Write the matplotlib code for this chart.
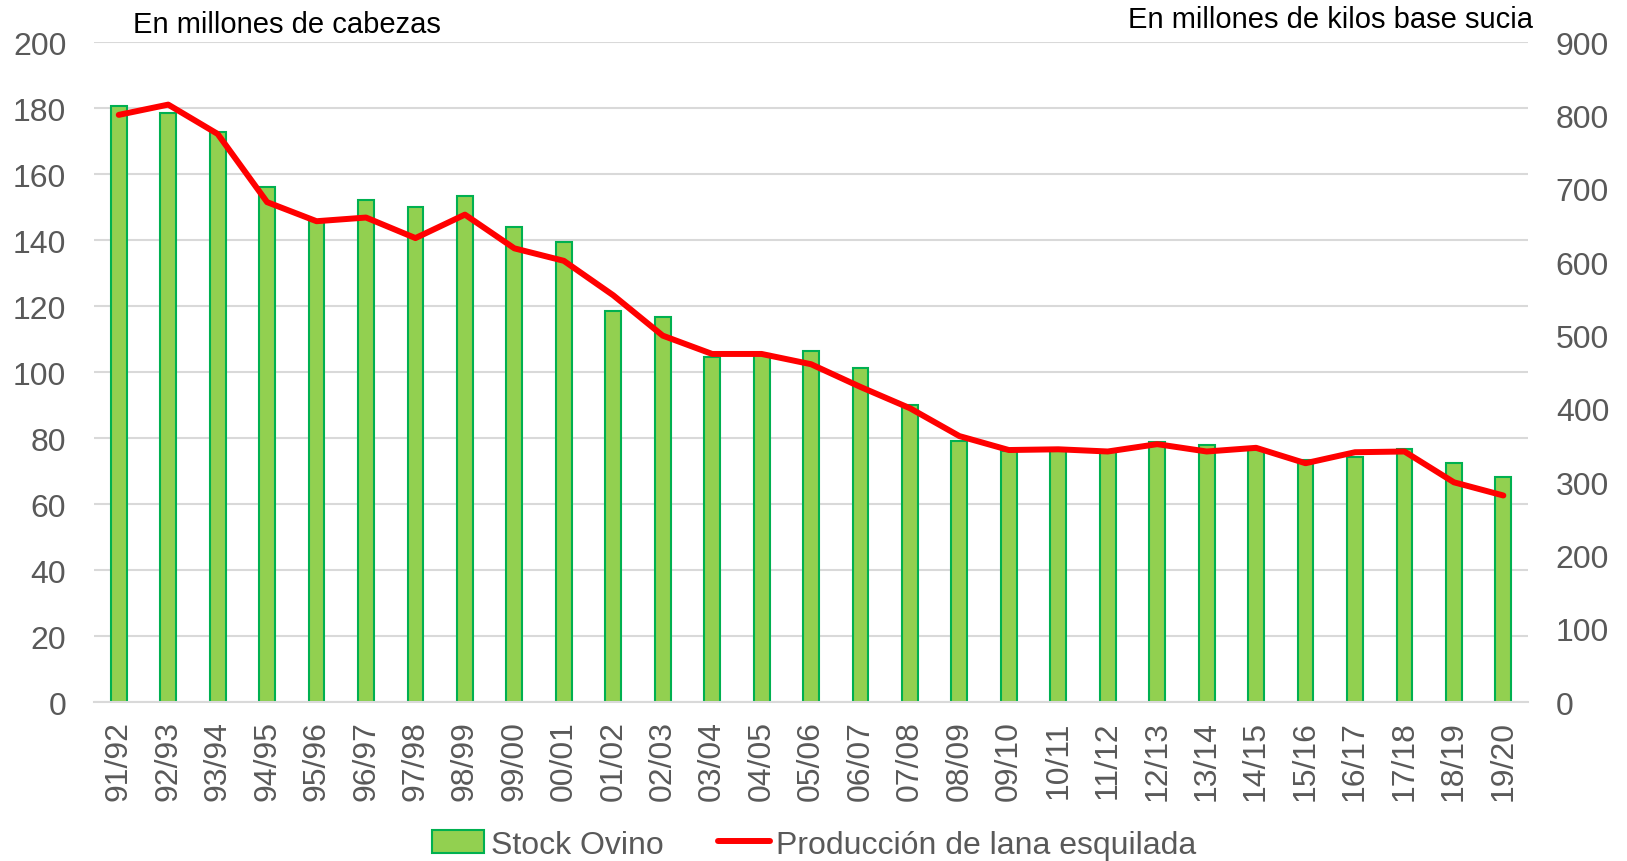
import matplotlib.pyplot as plt
import numpy as np

plt.rcParams["font.family"] = ["Liberation Sans", "DejaVu Sans"]

campanas = ["91/92", "92/93", "93/94", "94/95", "95/96", "96/97", "97/98", "98/99",
            "99/00", "00/01", "01/02", "02/03", "03/04", "04/05", "05/06", "06/07",
            "07/08", "08/09", "09/10", "10/11", "11/12", "12/13", "13/14", "14/15",
            "15/16", "16/17", "17/18", "18/19", "19/20"]
stock_ovino = [180.8, 178.6, 172.8, 156.1, 145.7, 152.1, 150.0, 153.5, 144.1, 139.5,
               118.6, 116.8, 104.7, 105.5, 106.5, 101.4, 90.2, 79.3, 76.1, 76.1,
               75.7, 78.9, 77.9, 76.4, 73.4, 74.4, 76.8, 72.5, 68.3]
produccion_lana = [801, 815, 775, 682, 656, 661, 633, 665, 619, 602,
                   555, 500, 475, 475, 461, 430, 401, 363, 344, 345,
                   342, 352, 342, 347, 326, 341, 342, 300, 282]

x = np.arange(len(campanas))

fig = plt.figure(figsize=(16.27, 8.62), dpi=100)
ax = fig.add_axes([0.0578, 0.1841, 0.8814, 0.7657])
ax2 = ax.twinx()

ax.bar(x, stock_ovino, width=0.32, color="#92D050", edgecolor="#00B050", linewidth=1.5,
       label="Stock Ovino", zorder=2)
ax2.plot(x, produccion_lana, color="#FF0000", linewidth=4.3, label="Producción de lana esquilada",
         solid_capstyle="round", zorder=3)

ax.set_xlim(-0.5, len(campanas) - 0.5)
ax.set_ylim(0, 200)
ax2.set_ylim(0, 900)
ax.set_yticks(range(0, 201, 20))
ax2.set_yticks(range(0, 901, 100))
ax.set_xticks(x)
ax.set_xticklabels(campanas, rotation=90)

ax.grid(axis="y", color="#D9D9D9", linewidth=1.5, zorder=0)
ax.set_axisbelow(True)
for a in (ax, ax2):
    for s in a.spines.values():
        s.set_visible(False)
    a.tick_params(length=0, labelsize=23, colors="#595959")
ax.spines["bottom"].set_visible(True)
ax.spines["bottom"].set_color("#D9D9D9")
ax.spines["bottom"].set_linewidth(1.5)
ax.tick_params(axis="y", pad=20)
ax.tick_params(axis="x", pad=13)
ax2.tick_params(axis="y", pad=20)

fig.text(0.0817, 0.962, "En millones de cabezas", fontsize=21, color="black", va="baseline")
fig.text(0.9422, 0.967, "En millones de kilos base sucia", fontsize=21, color="black",
         va="baseline", ha="right")

h1, l1 = ax.get_legend_handles_labels()
h2, l2 = ax2.get_legend_handles_labels()
fig.legend(h1 + h2, l1 + l2, loc="center", bbox_to_anchor=(0.5006, 0.019), ncol=2,
           frameon=False, fontsize=23, labelcolor="#595959", handlelength=1.63,
           handletextpad=0.19, columnspacing=1.72)

fig.savefig("out.png", dpi=100)
